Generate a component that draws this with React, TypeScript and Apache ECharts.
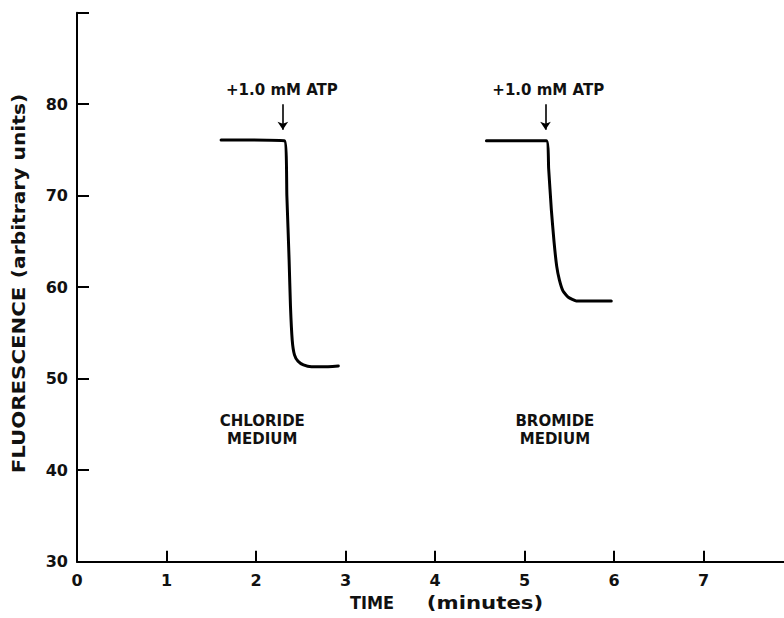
import React, { useEffect, useRef } from "react";
import * as echarts from "echarts";

// Chloride medium trace (time in minutes, fluorescence in arbitrary units)
const chlorideTime = [1.61, 2.32, 2.345, 2.37, 2.385, 2.405, 2.43, 2.47, 2.53, 2.62, 2.75, 2.92];
const chlorideFluor = [76.1, 76.0, 70.0, 63.0, 58.0, 54.2, 52.6, 51.9, 51.5, 51.3, 51.3, 51.4];

// Bromide medium trace
const bromideTime = [4.575, 5.245, 5.27, 5.3, 5.33, 5.36, 5.39, 5.43, 5.49, 5.58, 5.75, 5.97];
const bromideFluor = [76.0, 76.0, 73.0, 68.5, 65.0, 62.3, 60.8, 59.6, 58.9, 58.5, 58.5, 58.5];

// ATP addition annotations
const atpLabel = "+1.0 mM ATP";
const atpArrowTimes = [2.3, 5.235];
const atpLabelTimes = [2.29, 5.266];
const arrowTop = 80.0;
const arrowBottom = 77.2;
const atpLabelLevel = 81.5;

// Medium labels
const mediumLabels = ["CHLORIDE\nMEDIUM", "BROMIDE\nMEDIUM"];
const mediumTimes = [2.07, 5.34];
const mediumLevel = 44.4;

// Axis ticks
const xTicks = [0, 1, 2, 3, 4, 5, 6, 7];
const yMin = 30;
const yMax = 90;
const xMax = 7.9;

const FONT = "DejaVu Sans";

function App() {
  const ref = useRef<HTMLDivElement>(null);
  useEffect(() => {
    if (!ref.current) return;
    const chart = echarts.init(ref.current, undefined, { renderer: "svg" });
    const mkSeries = (name: string, t: number[], f: number[], idx: number) => ({
      name,
      type: "line",
      data: t.map((v, i) => [v, f[i]]),
      showSymbol: false,
      symbol: "none",
      smooth: 0.15,
      lineStyle: { color: "#000", width: 3, cap: "round", join: "round" },
      markLine: {
        silent: true,
        symbol: ["none", "arrow"],
        symbolSize: 8,
        lineStyle: { color: "#000", width: 1.6, type: "solid" },
        label: { show: false },
        data: [
          [
            { coord: [atpArrowTimes[idx], arrowTop] },
            { coord: [atpArrowTimes[idx], arrowBottom] },
          ],
        ],
      },
      markPoint: {
        silent: true,
        symbol: "circle",
        symbolSize: 0,
        data: [
          {
            coord: [atpLabelTimes[idx], atpLabelLevel],
            label: {
              show: true,
              position: "inside",
              formatter: atpLabel,
              fontFamily: FONT,
              fontWeight: "bold",
              fontSize: 15,
              color: "#111",
            },
          },
          {
            coord: [mediumTimes[idx], mediumLevel],
            label: {
              show: true,
              position: "inside",
              formatter: mediumLabels[idx],
              fontFamily: FONT,
              fontWeight: "bold",
              fontSize: 15,
              lineHeight: 18,
              align: "center",
              color: "#111",
            },
          },
        ],
      },
    });
    chart.setOption({
      animation: false,
      backgroundColor: "#fff",
      grid: {
        left: 77,
        right: 0,
        top: 12.7,
        bottom: 56.3,
        containLabel: false,
        outerBoundsMode: "none",
      },
      xAxis: {
        type: "value",
        min: 0,
        max: xMax,
        interval: 1,
        splitLine: { show: false },
        axisLine: { show: true, lineStyle: { color: "#000", width: 2 } },
        axisTick: {
          show: true,
          inside: true,
          length: 11,
          lineStyle: { color: "#000", width: 2 },
          customValues: xTicks,
        },
        axisLabel: {
          customValues: xTicks,
          margin: 11,
          fontFamily: FONT,
          fontWeight: "bold",
          fontSize: 16,
          color: "#111",
          formatter: (v: number) => (Number.isInteger(v) ? String(v) : ""),
        },
      },
      yAxis: {
        type: "value",
        min: yMin,
        max: yMax,
        interval: 10,
        splitLine: { show: false },
        axisLine: { show: true, lineStyle: { color: "#000", width: 2 } },
        axisTick: {
          show: true,
          inside: true,
          length: 12,
          lineStyle: { color: "#000", width: 2 },
        },
        axisLabel: {
          margin: 9,
          fontFamily: FONT,
          fontWeight: "bold",
          fontSize: 16,
          color: "#111",
          formatter: (v: number) => (v === yMax ? "" : String(v)),
        },
      },
      graphic: [
        {
          type: "text",
          x: 19,
          y: 380,
          rotation: Math.PI / 2,
          scaleX: 1.25,
          style: {
            text: "FLUORESCENCE",
            fontFamily: FONT,
            fontWeight: "bold",
            fontSize: 17,
            fill: "#111",
            align: "center",
            verticalAlign: "middle",
          },
        },
        {
          type: "text",
          x: 19,
          y: 186,
          rotation: Math.PI / 2,
          scaleX: 1.19,
          style: {
            text: "(arbitrary units)",
            fontFamily: FONT,
            fontWeight: "bold",
            fontSize: 17,
            fill: "#111",
            align: "center",
            verticalAlign: "middle",
          },
        },
        {
          type: "text",
          x: 372,
          y: 603,
          scaleX: 0.95,
          style: {
            text: "TIME",
            fontFamily: FONT,
            fontWeight: "bold",
            fontSize: 17,
            fill: "#111",
            align: "center",
            verticalAlign: "middle",
          },
        },
        {
          type: "text",
          x: 485,
          y: 603,
          scaleX: 1.25,
          style: {
            text: "(minutes)",
            fontFamily: FONT,
            fontWeight: "bold",
            fontSize: 17,
            fill: "#111",
            align: "center",
            verticalAlign: "middle",
          },
        },
      ],
      series: [
        mkSeries("Chloride medium", chlorideTime, chlorideFluor, 0),
        mkSeries("Bromide medium", bromideTime, bromideFluor, 1),
      ],
    });
    return () => chart.dispose();
  }, []);
  return (
    <div
      ref={ref}
      style={{ position: "absolute", left: 0, top: 0, width: 784, height: 618 }}
    />
  );
}

export default App;
